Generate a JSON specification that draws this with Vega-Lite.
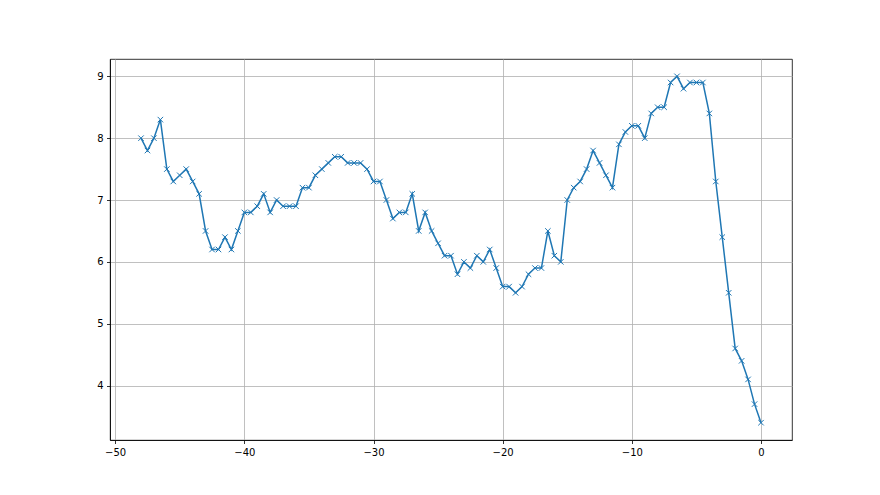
{
  "$schema": "https://vega.github.io/schema/vega-lite/v6.json",
  "width": 682,
  "height": 381,
  "autosize": {"type": "none"},
  "padding": {"left": 110, "top": 59, "right": 88, "bottom": 55},
  "background": "white",
  "config": {
    "view": {"stroke": "black", "strokeWidth": 0.8},
    "axis": {
      "domainColor": "black",
      "domainWidth": 0.8,
      "tickColor": "black",
      "tickWidth": 0.8,
      "tickSize": 3.5,
      "gridColor": "#b0b0b0",
      "gridWidth": 0.8,
      "labelFont": "DejaVu Sans",
      "labelFontSize": 10,
      "labelColor": "black",
      "labelPadding": 3.5,
      "title": null
    }
  },
  "data": {
    "values": [
      {"x": -48, "y": 8.0}, {"x": -47.5, "y": 7.8}, {"x": -47, "y": 8.0}, {"x": -46.5, "y": 8.3},
      {"x": -46, "y": 7.5}, {"x": -45.5, "y": 7.3}, {"x": -45, "y": 7.4}, {"x": -44.5, "y": 7.5},
      {"x": -44, "y": 7.3}, {"x": -43.5, "y": 7.1}, {"x": -43, "y": 6.5}, {"x": -42.5, "y": 6.2},
      {"x": -42, "y": 6.2}, {"x": -41.5, "y": 6.4}, {"x": -41, "y": 6.2}, {"x": -40.5, "y": 6.5},
      {"x": -40, "y": 6.8}, {"x": -39.5, "y": 6.8}, {"x": -39, "y": 6.9}, {"x": -38.5, "y": 7.1},
      {"x": -38, "y": 6.8}, {"x": -37.5, "y": 7.0}, {"x": -37, "y": 6.9}, {"x": -36.5, "y": 6.9},
      {"x": -36, "y": 6.9}, {"x": -35.5, "y": 7.2}, {"x": -35, "y": 7.2}, {"x": -34.5, "y": 7.4},
      {"x": -34, "y": 7.5}, {"x": -33.5, "y": 7.6}, {"x": -33, "y": 7.7}, {"x": -32.5, "y": 7.7},
      {"x": -32, "y": 7.6}, {"x": -31.5, "y": 7.6}, {"x": -31, "y": 7.6}, {"x": -30.5, "y": 7.5},
      {"x": -30, "y": 7.3}, {"x": -29.5, "y": 7.3}, {"x": -29, "y": 7.0}, {"x": -28.5, "y": 6.7},
      {"x": -28, "y": 6.8}, {"x": -27.5, "y": 6.8}, {"x": -27, "y": 7.1}, {"x": -26.5, "y": 6.5},
      {"x": -26, "y": 6.8}, {"x": -25.5, "y": 6.5}, {"x": -25, "y": 6.3}, {"x": -24.5, "y": 6.1},
      {"x": -24, "y": 6.1}, {"x": -23.5, "y": 5.8}, {"x": -23, "y": 6.0}, {"x": -22.5, "y": 5.9},
      {"x": -22, "y": 6.1}, {"x": -21.5, "y": 6.0}, {"x": -21, "y": 6.2}, {"x": -20.5, "y": 5.9},
      {"x": -20, "y": 5.6}, {"x": -19.5, "y": 5.6}, {"x": -19, "y": 5.5}, {"x": -18.5, "y": 5.6},
      {"x": -18, "y": 5.8}, {"x": -17.5, "y": 5.9}, {"x": -17, "y": 5.9}, {"x": -16.5, "y": 6.5},
      {"x": -16, "y": 6.1}, {"x": -15.5, "y": 6.0}, {"x": -15, "y": 7.0}, {"x": -14.5, "y": 7.2},
      {"x": -14, "y": 7.3}, {"x": -13.5, "y": 7.5}, {"x": -13, "y": 7.8}, {"x": -12.5, "y": 7.6},
      {"x": -12, "y": 7.4}, {"x": -11.5, "y": 7.2}, {"x": -11, "y": 7.9}, {"x": -10.5, "y": 8.1},
      {"x": -10, "y": 8.2}, {"x": -9.5, "y": 8.2}, {"x": -9, "y": 8.0}, {"x": -8.5, "y": 8.4},
      {"x": -8, "y": 8.5}, {"x": -7.5, "y": 8.5}, {"x": -7, "y": 8.9}, {"x": -6.5, "y": 9.0},
      {"x": -6, "y": 8.8}, {"x": -5.5, "y": 8.9}, {"x": -5, "y": 8.9}, {"x": -4.5, "y": 8.9},
      {"x": -4, "y": 8.4}, {"x": -3.5, "y": 7.3}, {"x": -3, "y": 6.4}, {"x": -2.5, "y": 5.5},
      {"x": -2, "y": 4.6}, {"x": -1.5, "y": 4.4}, {"x": -1, "y": 4.1}, {"x": -0.5, "y": 3.7},
      {"x": 0, "y": 3.4}
    ]
  },
  "encoding": {
    "x": {
      "field": "x", "type": "quantitative",
      "scale": {"domain": [-50.4, 2.4], "nice": false, "zero": false},
      "axis": {"values": [-50, -40, -30, -20, -10, 0], "format": "d"}
    },
    "y": {
      "field": "y", "type": "quantitative",
      "scale": {"domain": [3.12, 9.28], "nice": false, "zero": false},
      "axis": {"values": [4, 5, 6, 7, 8, 9], "format": "d"}
    }
  },
  "layer": [
    {"mark": {"type": "line", "color": "#1f77b4", "strokeWidth": 1.5}},
    {"mark": {"type": "point", "shape": "M -1 -1 L 1 1 M -1 1 L 1 -1", "stroke": "#1f77b4", "strokeWidth": 1, "size": 30, "filled": false, "opacity": 1}}
  ]
}
